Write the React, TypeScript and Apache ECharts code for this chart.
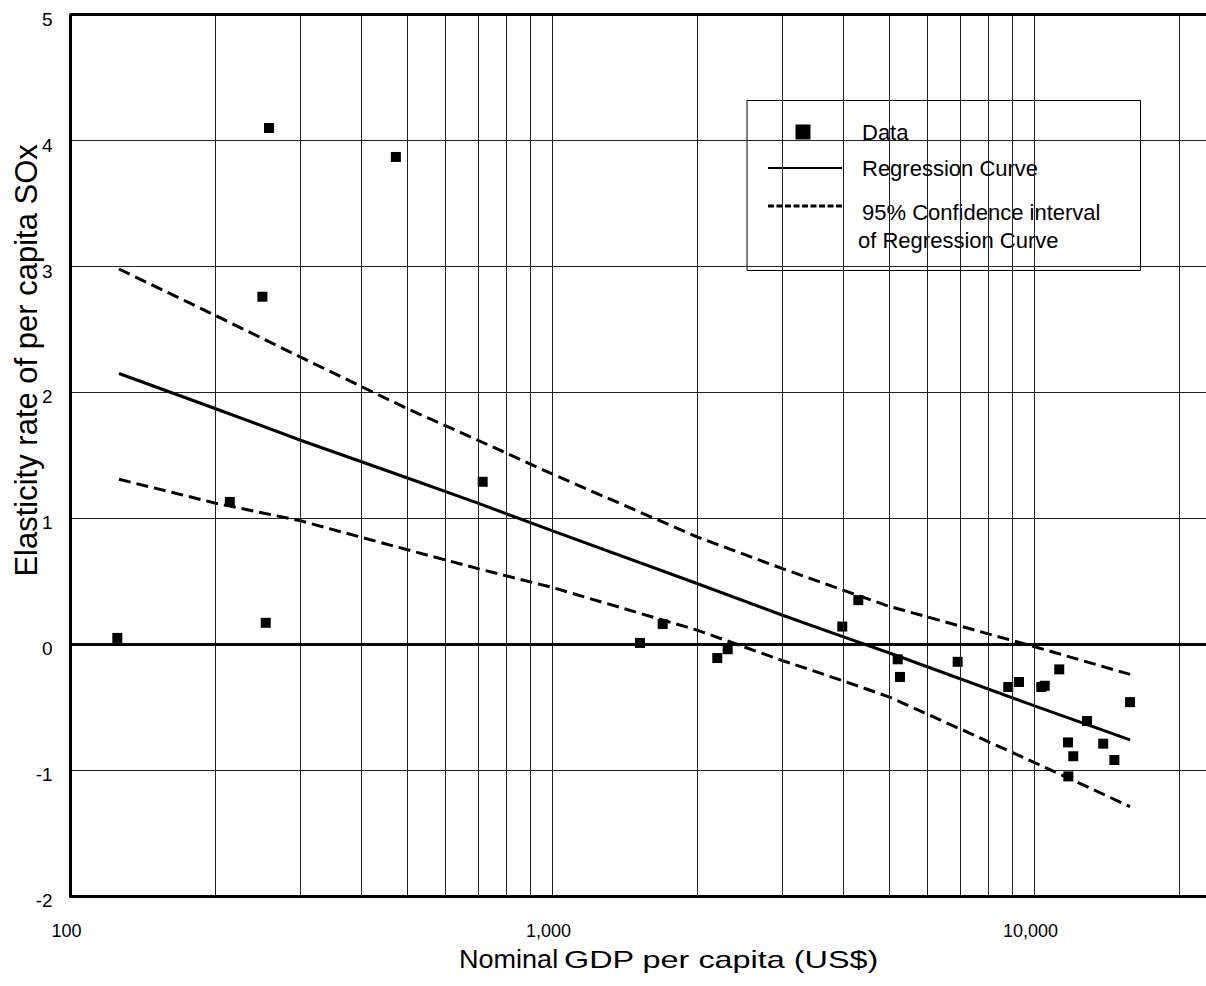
import React, { useEffect, useRef } from "react";
import * as echarts from "echarts";

// ---- Data ----
const gdpPerCapita = [
  125, 214, 258, 250, 254, 473, 716, 1518, 1692, 2196, 2308, 3990, 4308, 5200,
  5257, 6925, 8817, 9282, 10325, 10495, 11250, 12844, 11730, 13880, 12030,
  14640, 11750, 15780,
];
const elasticity = [
  0.05, 1.13, 4.1, 2.76, 0.17, 3.87, 1.29, 0.01, 0.16, -0.11, -0.04, 0.14,
  0.35, -0.12, -0.26, -0.14, -0.34, -0.3, -0.34, -0.33, -0.2, -0.61, -0.78,
  -0.79, -0.89, -0.92, -1.05, -0.46,
];

const curveX = [126, 200, 300, 500, 700, 1000, 2000, 3000, 4000, 5000, 10000, 15780];
const regression = [2.15, 1.87, 1.62, 1.32, 1.12, 0.9, 0.48, 0.23, 0.06, -0.07, -0.49, -0.76];
const upperCI = [2.98, 2.61, 2.28, 1.87, 1.62, 1.35, 0.85, 0.6, 0.43, 0.3, -0.02, -0.24];
const lowerCI = [1.31, 1.12, 0.98, 0.75, 0.6, 0.45, 0.11, -0.13, -0.29, -0.42, -0.94, -1.29];

const xGridValues = [
  200, 300, 400, 500, 600, 700, 800, 900, 1000, 2000, 3000, 4000, 5000, 6000,
  7000, 8000, 9000, 10000, 20000,
];
const xTickValues = [100, 1000, 10000];
const xTickLabels = ["100", "1,000", "10,000"];
const yTickMin = -2;
const yTickMax = 5;

const FONT = "'Liberation Sans', Arial, Helvetica, sans-serif";

export default function App() {
  const ref = useRef<HTMLDivElement>(null);

  useEffect(() => {
    if (!ref.current) return;
    const chart = echarts.init(ref.current, null, { renderer: "svg" });

    const pairs = (xs: number[], ys: number[]) => xs.map((x, i) => [x, ys[i]]);

    const option: any = {
      animation: false,
      backgroundColor: "#fff",
      textStyle: { fontFamily: FONT, color: "#000" },
      grid: {
        left: 70.6,
        right: 0,
        top: 14.7,
        bottom: 90,
        containLabel: false,
        outerBoundsMode: "none",
      },
      xAxis: {
        type: "log",
        logBase: 10,
        min: 100,
        max: 22680,
        axisLine: { show: true, onZero: false, lineStyle: { color: "#000", width: 3 } },
        axisTick: { show: false },
        splitLine: { show: false },
        axisLabel: {
          fontSize: 18,
          color: "#000",
          fontFamily: FONT,
          margin: 26,
          padding: [0, 8, 0, 0],
          showMaxLabel: false,
          formatter: (v: number) => {
            const idx = xTickValues.findIndex((t) => Math.abs(t - v) / t < 1e-6);
            return idx >= 0 ? xTickLabels[idx] : "";
          },
        },
      },
      yAxis: {
        type: "value",
        min: yTickMin,
        max: yTickMax,
        interval: 1,
        axisLine: { show: true, onZero: false, lineStyle: { color: "#000", width: 3 } },
        axisTick: { show: false },
        splitLine: { show: true, lineStyle: { color: "#222", width: 1 } },
        axisLabel: {
          color: "#000",
          fontFamily: FONT,
          margin: 18,
          formatter: (v: number) => "{v|" + v + "}",
          rich: {
            v: { fontSize: 19, fontFamily: FONT, color: "#000", padding: [9, 0, 0, 0] },
          },
        },
        name: "Elasticity rate of per capita SOx",
        nameLocation: "middle",
        nameRotate: 90,
        nameGap: 29,
        nameMoveOverlap: false,
        nameTextStyle: {
          fontSize: 31,
          fontFamily: FONT,
          color: "#000",
          padding: [0, 0, 0, 190],
        },
      },
      series: [
        {
          name: "grid",
          type: "line",
          data: [],
          z: 1,
          silent: true,
          markLine: {
            silent: true,
            symbol: "none",
            label: { show: false },
            animation: false,
            lineStyle: { color: "#222", width: 1, type: "solid" },
            data: xGridValues.map((v) => ({ xAxis: v })),
          },
        },
        {
          name: "frame",
          type: "line",
          data: [],
          z: 2,
          silent: true,
          markLine: {
            silent: true,
            symbol: "none",
            label: { show: false },
            animation: false,
            lineStyle: { color: "#000", width: 3, type: "solid" },
            data: [{ yAxis: 0 }, { yAxis: yTickMax }],
          },
        },
        {
          name: "Regression Curve",
          type: "line",
          data: pairs(curveX, regression),
          showSymbol: false,
          symbol: "none",
          z: 3,
          lineStyle: { color: "#000", width: 3, type: "solid" },
        },
        {
          name: "95% Confidence interval (upper)",
          type: "line",
          data: pairs(curveX, upperCI),
          showSymbol: false,
          symbol: "none",
          z: 3,
          lineStyle: { color: "#000", width: 3, type: [12, 6] },
        },
        {
          name: "95% Confidence interval (lower)",
          type: "line",
          data: pairs(curveX, lowerCI),
          showSymbol: false,
          symbol: "none",
          z: 3,
          lineStyle: { color: "#000", width: 3, type: [12, 6] },
        },
        {
          name: "Data",
          type: "scatter",
          data: pairs(gdpPerCapita, elasticity),
          symbol: "rect",
          symbolSize: 10,
          z: 4,
          itemStyle: { color: "#000", opacity: 1 },
        },
      ],
      graphic: [
        {
          type: "group",
          z: 100,
          children: [
            // x-axis title
            {
              type: "text",
              x: 459,
              y: 959,
              scaleX: 1.04,
              style: { text: "Nominal", fontSize: 26, fontFamily: FONT, fill: "#000", verticalAlign: "middle" },
            },
            {
              type: "text",
              x: 564,
              y: 960,
              scaleX: 1.35,
              style: { text: "GDP per capita (US$)", fontSize: 24, fontFamily: FONT, fill: "#000", verticalAlign: "middle" },
            },
            // legend
            {
              type: "rect",
              shape: { x: 747, y: 100.5, width: 393.5, height: 170 },
              style: { fill: "#fff", stroke: "#000", lineWidth: 1 },
            },
            {
              type: "rect",
              shape: { x: 795.5, y: 124.5, width: 15, height: 15 },
              style: { fill: "#000" },
            },
            {
              type: "text",
              x: 862,
              y: 132,
              style: { text: "Data", fontSize: 22, fontFamily: FONT, fill: "#000", verticalAlign: "middle" },
            },
            {
              type: "line",
              shape: { x1: 768, y1: 168, x2: 842, y2: 168 },
              style: { stroke: "#000", lineWidth: 2 },
            },
            {
              type: "text",
              x: 862,
              y: 168,
              style: { text: "Regression Curve", fontSize: 22, fontFamily: FONT, fill: "#000", verticalAlign: "middle" },
            },
            {
              type: "line",
              shape: { x1: 768, y1: 206, x2: 843, y2: 206 },
              style: { stroke: "#000", lineWidth: 3, lineDash: [6, 2.5] },
            },
            {
              type: "text",
              x: 862,
              y: 212,
              style: { text: "95% Confidence interval", fontSize: 22, fontFamily: FONT, fill: "#000", verticalAlign: "middle" },
            },
            {
              type: "text",
              x: 858,
              y: 240,
              style: { text: "of Regression Curve", fontSize: 22, fontFamily: FONT, fill: "#000", verticalAlign: "middle" },
            },
          ],
        },
      ],
    };

    chart.setOption(option);
    return () => chart.dispose();
  }, []);

  return (
    <div
      ref={ref}
      style={{ position: "absolute", left: 0, top: 0, width: 1206, height: 986, background: "#fff" }}
    />
  );
}
